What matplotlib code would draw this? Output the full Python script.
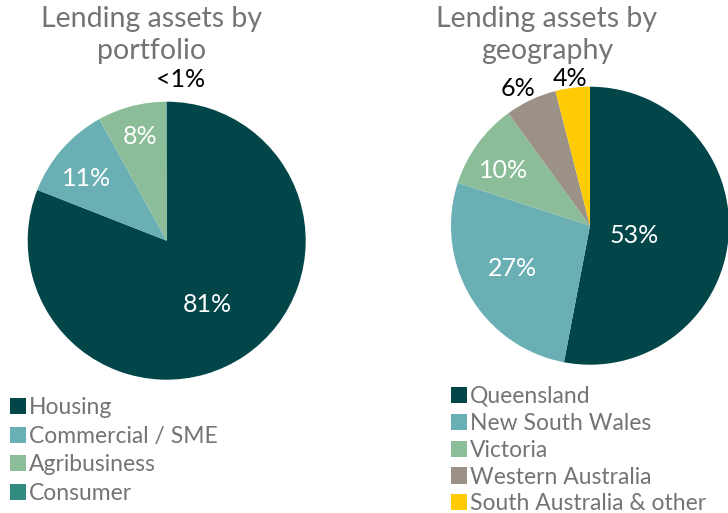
import matplotlib.pyplot as plt
from matplotlib.patches import Patch

plt.rcParams['font.family'] = ['Lato', 'DejaVu Sans']

# portfolio pie
port_names = ["Housing", "Commercial / SME", "Agribusiness", "Consumer"]
port_sizes = [80.95, 11.0, 8.0, 0.05]
port_labels = ["81%", "11%", "8%", "<1%"]
port_colors = ["#02464a", "#6aafb4", "#8bbd99", "#318b80"]

# geography pie
geo_names = ["Queensland", "New South Wales", "Victoria", "Western Australia", "South Australia & other"]
geo_sizes = [53, 27, 10, 6, 4]
geo_labels = ["53%", "27%", "10%", "6%", "4%"]
geo_colors = ["#02464a", "#6aafb4", "#8bbd99", "#9b9187", "#ffcb05"]

# where each percentage sits, in pie radius units
port_pos = [(0.29, -0.46), (-0.58, 0.45), (-0.19, 0.75), (0.10, 1.16)]
port_tc = ["white", "white", "white", "black"]
geo_pos = [(0.32, -0.07), (-0.56, -0.31), (-0.62, 0.40), (-0.52, 0.985), (-0.14, 1.057)]
geo_tc = ["white", "white", "white", "black", "black"]

W, H = 728, 513
fig = plt.figure(figsize=(W/100, H/100), dpi=100)

R = 139.0
half = 1.25 * R

def pie_axes(cx, cy):
  return fig.add_axes([(cx-half)/W, (H-cy-half)/H, 2*half/W, 2*half/H])

def draw(ax, sizes, colors, labels, pos, tc):
  ax.pie(sizes, colors=colors, startangle=90, counterclock=False,
         wedgeprops=dict(linewidth=0))
  for lab, (x, y), c in zip(labels, pos, tc):
    ax.text(x, y, lab, ha="center", va="center", fontsize=18, color=c)
  ax.set_xlim(-1.25, 1.25)
  ax.set_ylim(-1.25, 1.25)
  ax.set_aspect("equal")
  ax.axis("off")

ax1 = pie_axes(166.7, 240.7)
draw(ax1, port_sizes, port_colors, port_labels, port_pos, port_tc)
ax2 = pie_axes(590, 225.7)
draw(ax2, geo_sizes, geo_colors, geo_labels, geo_pos, geo_tc)

tcol = "#747474"
fig.text(152/W, 1-6/H, "Lending assets by\nportfolio", ha="center", va="top",
         fontsize=20.5, color=tcol, linespacing=1.28)
fig.text(547/W, 1-6/H, "Lending assets by\ngeography", ha="center", va="top",
         fontsize=20.5, color=tcol, linespacing=1.28)

def legend(names, colors, x, y, spacing):
  h = [Patch(facecolor=c, edgecolor="none") for c in colors]
  fig.legend(h, names, loc="upper left", bbox_to_anchor=(x/W, 1-y/H),
             frameon=False, fontsize=16.5, labelcolor=tcol,
             handlelength=0.7, handleheight=0.7, handletextpad=0.12,
             labelspacing=spacing, borderpad=0, borderaxespad=0)

legend(port_names, port_colors, 10, 397, 0.33)
legend(geo_names, geo_colors, 451, 386, 0.255)

fig.savefig("out.png", dpi=100)
